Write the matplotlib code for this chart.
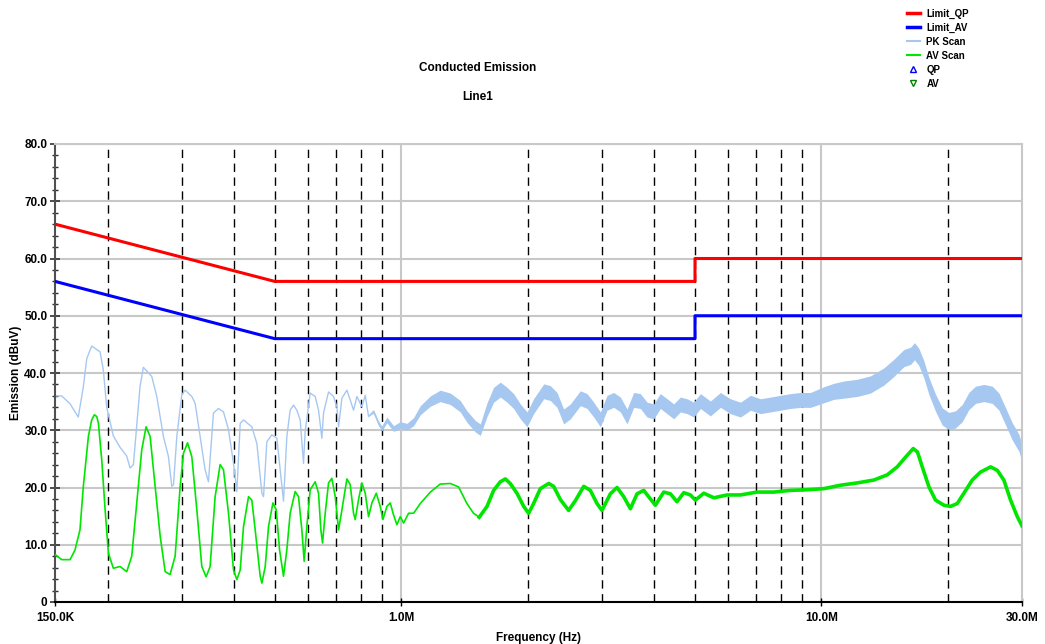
import numpy as np
import matplotlib
matplotlib.use("Agg")
import matplotlib.pyplot as plt
from matplotlib.lines import Line2D
from matplotlib.ticker import FixedLocator, FixedFormatter, MultipleLocator, NullLocator

plt.rcParams['font.family'] = ['Liberation Sans', 'DejaVu Sans']
plt.rcParams['font.weight'] = 'bold'

# limit lines (frequency in MHz, level in dBuV)
qp_limit_f = [0.15, 0.5, 0.5, 5.0, 5.0, 30.0]
qp_limit_db = [66.0, 56.0, 56.0, 56.0, 60.0, 60.0]
av_limit_f = [0.15, 0.5, 0.5, 5.0, 5.0, 30.0]
av_limit_db = [56.0, 46.0, 46.0, 46.0, 50.0, 50.0]

# peak scan: level and half width of the noise band
pk_f = [0.150, 0.1556, 0.163, 0.1704, 0.1752, 0.1785, 0.1834, 0.1920, 0.1955, 0.1991,
        0.2065, 0.2143, 0.2222, 0.2263, 0.2305, 0.2390, 0.2434, 0.2549, 0.2620, 0.2717,
        0.2793, 0.2844, 0.2871, 0.2924, 0.3005, 0.3060, 0.3174, 0.3233, 0.3322, 0.3414,
        0.3477, 0.3574, 0.3673, 0.3776, 0.3881, 0.3989, 0.4063, 0.4138, 0.4214, 0.4410,
        0.4533, 0.4660, 0.4702, 0.4789, 0.4922, 0.5058, 0.5151, 0.5246, 0.5343, 0.5441,
        0.5542, 0.5644, 0.5748, 0.5854, 0.5907, 0.6072, 0.6241, 0.6356, 0.6473, 0.6532,
        0.6714, 0.6901, 0.7029, 0.7094, 0.7225, 0.7425, 0.7560, 0.7700, 0.7843, 0.8060,
        0.8209, 0.8360, 0.8592, 0.8831, 0.8995, 0.9245, 0.9588, 0.9945, 1.0316, 1.070,
        1.110, 1.173, 1.238, 1.308, 1.382, 1.433, 1.501, 1.542, 1.600, 1.659,
        1.721, 1.785, 1.851, 1.920, 1.992, 2.065, 2.183, 2.263, 2.348, 2.435,
        2.526, 2.668, 2.768, 2.871, 2.977, 3.088, 3.203, 3.322, 3.446, 3.574,
        3.707, 3.845, 3.988, 4.136, 4.291, 4.450, 4.616, 4.787, 4.966, 5.151,
        5.441, 5.748, 6.072, 6.415, 6.776, 7.158, 7.562, 7.988, 8.439, 8.913,
        9.415, 10.13, 10.70, 11.30, 12.16, 13.08, 14.08, 14.87, 15.70, 16.29,
        16.65, 17.05, 17.53, 18.02, 18.68, 19.38, 20.10, 20.84, 21.62, 22.42,
        23.26, 24.35, 25.49, 26.44, 27.43, 28.44, 29.50, 30.0]
pk_db = [36.0, 36.0, 34.6, 32.3, 37.6, 42.5, 44.7, 43.7, 40.5, 34.0,
         29.0, 27.0, 25.5, 23.4, 24.0, 37.6, 41.0, 39.4, 35.9, 28.9,
         25.4, 20.2, 20.5, 28.9, 36.2, 37.0, 35.9, 34.7, 28.9, 23.1,
         21.0, 33.0, 33.8, 33.2, 30.1, 24.2, 19.3, 31.2, 31.8, 30.6,
         27.7, 19.0, 18.4, 28.0, 29.2, 28.6, 23.1, 17.6, 28.9, 33.5,
         34.4, 33.5, 31.8, 24.2, 29.8, 36.5, 35.9, 33.5, 28.6, 33.0,
         36.7, 35.9, 34.1, 30.6, 35.6, 37.0, 35.3, 33.5, 35.9, 34.1,
         36.1, 32.4, 33.3, 31.2, 30.3, 31.8, 30.3, 30.9, 30.6, 31.5,
         33.5, 35.1, 36.0, 35.5, 34.2, 32.4, 30.7, 30.1, 33.6, 36.2,
         37.1, 36.2, 35.1, 33.3, 31.9, 34.2, 36.8, 36.5, 35.3, 32.4,
         33.3, 35.6, 35.1, 33.6, 31.9, 34.8, 35.3, 34.5, 32.4, 35.3,
         35.1, 33.6, 33.3, 35.1, 34.2, 33.3, 34.5, 34.2, 33.6, 35.1,
         33.8, 35.3, 34.2, 33.6, 34.8, 34.2, 34.5, 34.8, 35.1, 35.3,
         35.3, 36.2, 36.8, 37.1, 37.4, 38.0, 39.4, 40.9, 42.6, 43.0,
         43.8, 42.8, 40.6, 37.7, 34.8, 32.4, 31.6, 31.9, 33.0, 35.1,
         36.2, 36.5, 36.2, 35.0, 32.4, 29.8, 27.8, 26.0]
pk_hw = [0.0] * 70 + [
         0.0, 0.0, 0.3, 0.4, 0.4, 0.5, 0.5, 0.6, 0.6, 0.7,
         0.8, 0.9, 1.0, 1.0, 1.0, 1.0, 1.0, 1.0, 1.2, 1.3,
         1.3, 1.3, 1.3, 1.3, 1.3, 1.3, 1.3, 1.3, 1.3, 1.3,
         1.3, 1.3, 1.3, 1.3, 1.3, 1.3, 1.3, 1.3, 1.3, 1.3,
         1.3, 1.3, 1.3, 1.3, 1.3, 1.3, 1.3, 1.3, 1.3, 1.3,
         1.3, 1.3, 1.3, 1.3, 1.3, 1.3, 1.3, 1.3, 1.3, 1.3,
         1.3, 1.4, 1.4, 1.5, 1.5, 1.5, 1.5, 1.5, 1.5, 1.5,
         1.5, 1.5, 1.5, 1.5, 1.5, 1.5, 1.5, 1.5, 1.5, 1.5,
         1.5, 1.5, 1.5, 1.5, 1.5, 1.5, 1.5, 1.5]

# average scan
av_f = [0.150, 0.1556, 0.1629, 0.1674, 0.1720, 0.1752, 0.1801, 0.1834, 0.1861, 0.1886,
        0.1903, 0.1938, 0.1974, 0.2010, 0.2065, 0.2143, 0.2222, 0.2284, 0.2348, 0.2413,
        0.2471, 0.2526, 0.2597, 0.2669, 0.2743, 0.2818, 0.2897, 0.2978, 0.3033, 0.3101,
        0.3174, 0.3263, 0.3353, 0.3433, 0.3509, 0.3607, 0.3707, 0.3776, 0.3881, 0.3989,
        0.4063, 0.4138, 0.4214, 0.4331, 0.4410, 0.4492, 0.4617, 0.4660, 0.4746, 0.4833,
        0.4950, 0.5041, 0.5134, 0.5246, 0.5343, 0.5441, 0.5592, 0.5696, 0.5801, 0.5875,
        0.5962, 0.6072, 0.6241, 0.6356, 0.6437, 0.6497, 0.6593, 0.6714, 0.6838, 0.6965,
        0.7094, 0.7225, 0.7425, 0.7560, 0.7700, 0.7771, 0.7915, 0.8060, 0.8209, 0.8360,
        0.8514, 0.8721, 0.8913, 0.9045, 0.9245, 0.9415, 0.9588, 0.9765, 0.9945, 1.013,
        1.041, 1.070, 1.110, 1.173, 1.238, 1.308, 1.369, 1.433, 1.486, 1.533,
        1.600, 1.659, 1.721, 1.769, 1.817, 1.885, 1.956, 2.010, 2.065, 2.143,
        2.243, 2.305, 2.391, 2.502, 2.596, 2.718, 2.818, 2.923, 3.004, 3.145,
        3.262, 3.383, 3.510, 3.640, 3.776, 3.916, 4.025, 4.213, 4.370, 4.532,
        4.701, 4.876, 5.012, 5.246, 5.546, 5.963, 6.415, 7.028, 7.700, 8.439,
        9.246, 10.13, 11.10, 12.16, 13.32, 14.33, 15.14, 15.85, 16.53, 16.92,
        17.37, 18.02, 18.68, 19.56, 20.28, 21.04, 21.82, 22.84, 23.91, 25.26,
        26.20, 27.16, 28.18, 29.24, 30.0]
av_db = [8.3, 7.4, 7.4, 9.1, 12.6, 20.2, 28.9, 31.8, 32.7, 32.4,
         31.2, 24.8, 16.1, 8.5, 5.9, 6.2, 5.3, 8.0, 17.3, 26.6,
         30.6, 28.9, 20.2, 11.5, 5.3, 4.8, 8.0, 20.2, 26.0, 27.8,
         25.4, 16.1, 6.2, 4.4, 6.2, 18.4, 24.0, 23.1, 15.5, 5.6,
         3.9, 5.6, 13.2, 18.4, 17.8, 12.6, 4.5, 3.3, 6.2, 13.2,
         17.3, 16.1, 9.1, 4.5, 9.1, 15.5, 19.3, 18.4, 12.6, 7.1,
         13.2, 19.6, 21.0, 19.0, 12.6, 10.3, 15.5, 20.8, 21.6, 18.4,
         12.6, 16.1, 21.5, 20.5, 15.5, 14.4, 17.9, 20.8, 19.0, 14.9,
         17.3, 19.0, 16.7, 14.4, 16.7, 17.3, 15.2, 13.5, 14.9, 13.8,
         15.5, 15.5, 17.2, 19.2, 20.6, 20.7, 20.1, 17.2, 15.5, 14.8,
         16.7, 19.5, 21.0, 21.5, 20.7, 19.0, 16.7, 15.5, 17.2, 19.8,
         20.7, 20.2, 17.9, 16.0, 17.7, 20.2, 19.5, 17.2, 16.0, 18.9,
         20.0, 18.4, 16.3, 18.9, 19.5, 18.0, 16.9, 19.2, 18.9, 17.5,
         19.1, 18.7, 17.8, 19.0, 18.2, 18.7, 18.7, 19.2, 19.2, 19.5,
         19.6, 19.8, 20.4, 20.8, 21.3, 22.2, 23.6, 25.3, 26.8, 26.2,
         23.6, 20.1, 17.8, 16.9, 16.7, 17.2, 19.0, 21.3, 22.7, 23.6,
         23.0, 21.3, 17.8, 14.9, 13.3]

x_minor_lines = [0.2, 0.3, 0.4, 0.5, 0.6, 0.7, 0.8, 0.9,
                 2, 3, 4, 5, 6, 7, 8, 9, 20]
x_tick_pos = [0.15, 1.0, 10.0, 30.0]
x_tick_labels = ['150.0K', '1.0M', '10.0M', '30.0M']

pk_f = np.array(pk_f)
pk_db = np.array(pk_db)
pk_hw = np.array(pk_hw)
av_f = np.array(av_f)
av_db = np.array(av_db)
assert len(pk_f) == len(pk_db) == len(pk_hw)
assert len(av_f) == len(av_db)

fig = plt.figure(figsize=(10.45, 6.44), dpi=100)
ax = fig.add_axes([55 / 1045, 42 / 644, 967 / 1045, 458 / 644])

ax.set_xscale('log')
ax.set_xlim(0.15, 30)
ax.set_ylim(0, 80)

# grid
for y in range(10, 81, 10):
    ax.axhline(y, color='#c8c8c8', lw=1.5, zorder=1)
for x in [1.0, 10.0]:
    ax.axvline(x, color='#c8c8c8', lw=1.5, zorder=1)
for x in x_minor_lines:
    ax.axvline(x, color='black', lw=1.0, ls=(0, (6, 4)), zorder=1)

pk_color = '#a6c8f0'
av_color = '#00e600'
ax.fill_between(pk_f, pk_db - pk_hw, pk_db + pk_hw, color=pk_color, lw=0, zorder=2)
ax.plot(pk_f, pk_db, color=pk_color, lw=1.0, zorder=2)

noisy = av_f >= 1.5
ax.plot(av_f, av_db, color=av_color, lw=1.2, zorder=3)
ax.plot(av_f[noisy], av_db[noisy], color=av_color, lw=2.6, zorder=3)

ax.plot(qp_limit_f, qp_limit_db, color='#ff0000', lw=2.2, zorder=4)
ax.plot(av_limit_f, av_limit_db, color='#0000ff', lw=2.2, zorder=4)

# axes frame
ax.spines['left'].set_color('#505050')
ax.spines['left'].set_linewidth(1.5)
ax.spines['bottom'].set_color('black')
ax.spines['bottom'].set_linewidth(1.5)
ax.spines['top'].set_color('#c8c8c8')
ax.spines['top'].set_linewidth(1.5)
ax.spines['right'].set_color('#c8c8c8')
ax.spines['right'].set_linewidth(1.5)

ax.xaxis.set_major_locator(FixedLocator(x_tick_pos))
ax.xaxis.set_major_formatter(FixedFormatter(x_tick_labels))
ax.xaxis.set_minor_locator(NullLocator())
ax.yaxis.set_major_locator(MultipleLocator(10))
ax.yaxis.set_minor_locator(MultipleLocator(2))
ax.set_yticklabels(['0' if v == 0 else f'{v:.1f}' for v in ax.get_yticks()])
ax.tick_params(axis='y', which='major', direction='inout', length=7, width=1.2,
               color='#303030', labelsize=8.5, pad=2)
ax.tick_params(axis='y', which='minor', direction='inout', length=5, width=1.0,
               color='#303030')
ax.tick_params(axis='x', which='major', direction='inout', length=6, width=1.0,
               color='black', labelsize=8.5, pad=4)
for lbl in ax.get_xticklabels() + ax.get_yticklabels():
    lbl.set_fontweight('bold')

ax.set_xlabel('Frequency (Hz)', fontsize=8.5, fontweight='bold', labelpad=6)
ax.set_ylabel('Emission (dBuV)', fontsize=8.5, fontweight='bold')
ax.yaxis.set_label_coords(-33 / 967, 0.5)

fig.text(478 / 1045, 1 - 68 / 644, 'Conducted Emission', ha='center', va='center',
         fontsize=8.5, fontweight='bold')
fig.text(478 / 1045, 1 - 97 / 644, 'Line1', ha='center', va='center',
         fontsize=8.5, fontweight='bold')

handles = [
    Line2D([], [], color='#ff0000', lw=2.5),
    Line2D([], [], color='#0000ff', lw=2.5),
    Line2D([], [], color=pk_color, lw=1.5),
    Line2D([], [], color=av_color, lw=1.5),
    Line2D([], [], color='#0000ff', marker='^', ls='none', markersize=4,
           markerfacecolor='none', markeredgewidth=1),
    Line2D([], [], color='#008000', marker='v', ls='none', markersize=4,
           markerfacecolor='none', markeredgewidth=1),
]
labels = ['Limit_QP', 'Limit_AV', 'PK Scan', 'AV Scan', 'QP', 'AV']
fig.legend(handles, labels, loc='upper left', bbox_to_anchor=(903 / 1045, 1 - 5 / 644),
           frameon=False, handlelength=1.3, handletextpad=0.7,
           labelspacing=0.4, borderaxespad=0, prop={'weight': 'bold', 'size': 7})

fig.savefig('out.png', dpi=100)
